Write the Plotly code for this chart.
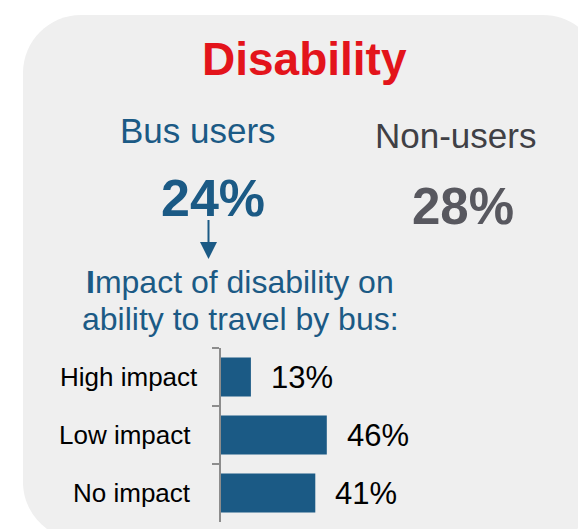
import plotly.graph_objects as go

W, H = 578, 529

# Data
categories = ["High impact", "Low impact", "No impact"]
impact_values = [13, 46, 41]
value_labels = ["13%", "46%", "41%"]
bus_users_pct = "24%"
non_users_pct = "28%"

BLUE = "#1b5a85"
RED = "#e3141b"
DARK = "#404045"
GRAY28 = "#58585f"
PANEL = "#efefef"
FONT = "Liberation Sans, Arial, sans-serif"


def px(x):
    return x / W


def py(y):
    return 1 - y / H


fig = go.Figure()
fig.add_trace(go.Bar(
    x=impact_values, y=categories, orientation="h",
    marker=dict(color=BLUE, line=dict(width=0)),
    width=0.67, hoverinfo="skip",
))

annotations = []
# value labels
for cat, v, lab in zip(categories, impact_values, value_labels):
    annotations.append(dict(x=v, y=cat, xref="x", yref="y", text=lab,
                            showarrow=False, xanchor="left", yanchor="middle",
                            xshift=18, font=dict(family=FONT, size=31, color="black")))
# category labels (right edges as in the reference)
label_right_edges = [200, 193, 193]
for cat, xr in zip(categories, label_right_edges):
    annotations.append(dict(x=px(xr), y=cat, xref="paper", yref="y", text=cat,
                            showarrow=False, xanchor="right", yanchor="middle",
                            font=dict(family=FONT, size=26, color="black")))


def txt(text, x, y, size, color):
    annotations.append(dict(x=px(x), y=py(y), xref="paper", yref="paper", text=text,
                            showarrow=False, xanchor="center", yanchor="middle",
                            font=dict(family=FONT, size=size, color=color)))


txt("<b>Disability</b>", 304, 59, 46, RED)
txt("Bus users", 197.5, 130, 35, BLUE)
txt("Non-users", 455, 135.5, 35, DARK)
txt("<b>" + bus_users_pct + "</b>", 213, 197.5, 52, BLUE)
txt("<b>" + non_users_pct + "</b>", 463, 206.5, 51, GRAY28)
txt("<b>I</b>mpact of disability on", 240, 281.5, 32, BLUE)
txt("ability to travel by bus:", 240, 318.5, 32, BLUE)

# panel (rounded rectangle)
L, T, R, B, r = 23, 15, 601, 540, 58
k = 0.4477
path = (
    f"M {px(L)},{py(T + r)} "
    f"C {px(L)},{py(T + r * k)} {px(L + r * k)},{py(T)} {px(L + r)},{py(T)} "
    f"L {px(R - r)},{py(T)} "
    f"C {px(R - r * k)},{py(T)} {px(R)},{py(T + r * k)} {px(R)},{py(T + r)} "
    f"L {px(R)},{py(B - r)} "
    f"C {px(R)},{py(B - r * k)} {px(R - r * k)},{py(B)} {px(R - r)},{py(B)} "
    f"L {px(L + r)},{py(B)} "
    f"C {px(L + r * k)},{py(B)} {px(L)},{py(B - r * k)} {px(L)},{py(B - r)} Z"
)
shapes = [
    dict(type="path", path=path, xref="paper", yref="paper", fillcolor=PANEL,
         line=dict(width=0), layer="below"),
    # arrow shaft
    dict(type="line", xref="paper", yref="paper", x0=px(208.5), x1=px(208.5),
         y0=py(220), y1=py(244), line=dict(color=BLUE, width=2)),
    # arrow head
    dict(type="path", xref="paper", yref="paper",
         path=f"M {px(200)},{py(242)} L {px(217)},{py(242)} L {px(208.5)},{py(259)} Z",
         fillcolor=BLUE, line=dict(width=0)),
]

fig.update_layout(
    width=W, height=H, margin=dict(l=0, r=0, t=0, b=0),
    paper_bgcolor="white", plot_bgcolor="rgba(0,0,0,0)",
    showlegend=False, annotations=annotations, shapes=shapes,
    xaxis=dict(domain=[px(221), px(221 + 345)], range=[0, 150], visible=False,
               fixedrange=True),
    yaxis=dict(domain=[py(522), py(348)], autorange="reversed",
               showline=True, linecolor="#8c8c8c", linewidth=2,
               ticks="outside", tickson="boundaries", ticklen=7, tickwidth=2,
               tickcolor="#8c8c8c", showgrid=False, zeroline=False,
               showticklabels=False, fixedrange=True),
    bargap=0.33,
)

fig.write_html("out.html", config={"displayModeBar": False},
               post_script="document.body.style.margin='0';document.body.style.overflow='hidden';")
